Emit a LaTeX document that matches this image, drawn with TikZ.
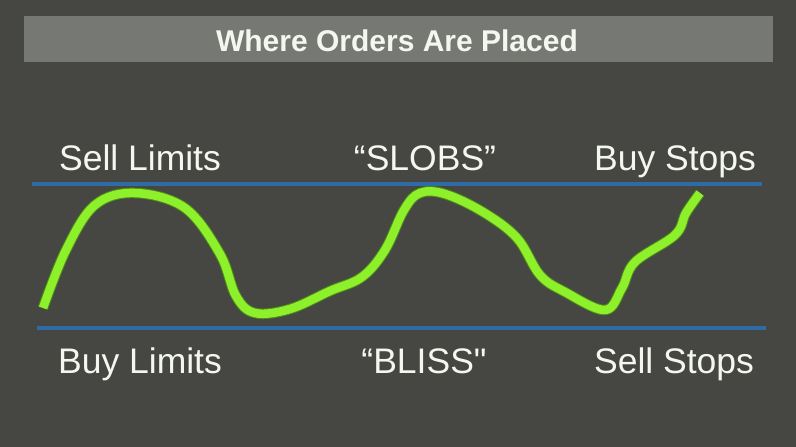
\documentclass[tikz,border=0pt]{standalone}
\usepackage{fontspec}
\setmainfont{Liberation Sans}[Ligatures=TeXOff]
\usepackage{xcolor}
\usepackage{tikz}

\definecolor{slidebg}{HTML}{464743}
\definecolor{titlebg}{HTML}{767873}
\definecolor{lighttext}{HTML}{F4F7EF}
\definecolor{levelblue}{HTML}{2F6CA6}
\definecolor{pricegreen}{HTML}{8EF02B}
\definecolor{edgegreen}{HTML}{4E8A1A}

\begin{document}
\begin{tikzpicture}[x=1pt,y=-1pt,
    lbl/.style={text=lighttext,anchor=base,inner sep=0pt,font=\fontsize{35.5}{40}\selectfont},
    level/.style={levelblue,line width=3.5pt}]
    \fill[slidebg] (0,0) rectangle (796,447);
    \useasboundingbox (0,0) rectangle (796,447);

    \fill[titlebg] (24,16) rectangle (773,62);
    \node[text=lighttext,anchor=base,inner sep=0pt,font=\fontsize{30}{34}\selectfont\bfseries] (title) at (397,51) {Where Orders Are Placed};

    \node[lbl] (sl) at (140,170) {Sell Limits};
    \node[lbl] (slobs) at (425,170) {“SLOBS”};
    \node[lbl] (bs) at (675,170) {Buy Stops};
    \node[lbl] (bl) at (140,373) {Buy Limits};
    \node[lbl] (bliss) at (424,373) {“BLISS"};
    \node[lbl] (ss) at (674,373) {Sell Stops};

    \draw[level] (32,184) -- (762,184);
    \draw[level] (37,328) -- (766,328);

    \foreach \c/\w in {edgegreen/10.5pt,pricegreen/8.5pt}
      \draw[\c,line width=\w,line join=round] plot[smooth,tension=0.6] coordinates {
        (43,308) (66,250) (95,205) (135,193) (185,208) (220,254)
        (236,296) (255,313) (290,309) (330,291) (362,277) (385,250)
        (404,210) (420,193) (445,194) (483,212) (517,238) (540,275)
        (565,292) (605,310) (622,288) (635,262) (675,235) (686,213) (700,193)};
\end{tikzpicture}
\end{document}
